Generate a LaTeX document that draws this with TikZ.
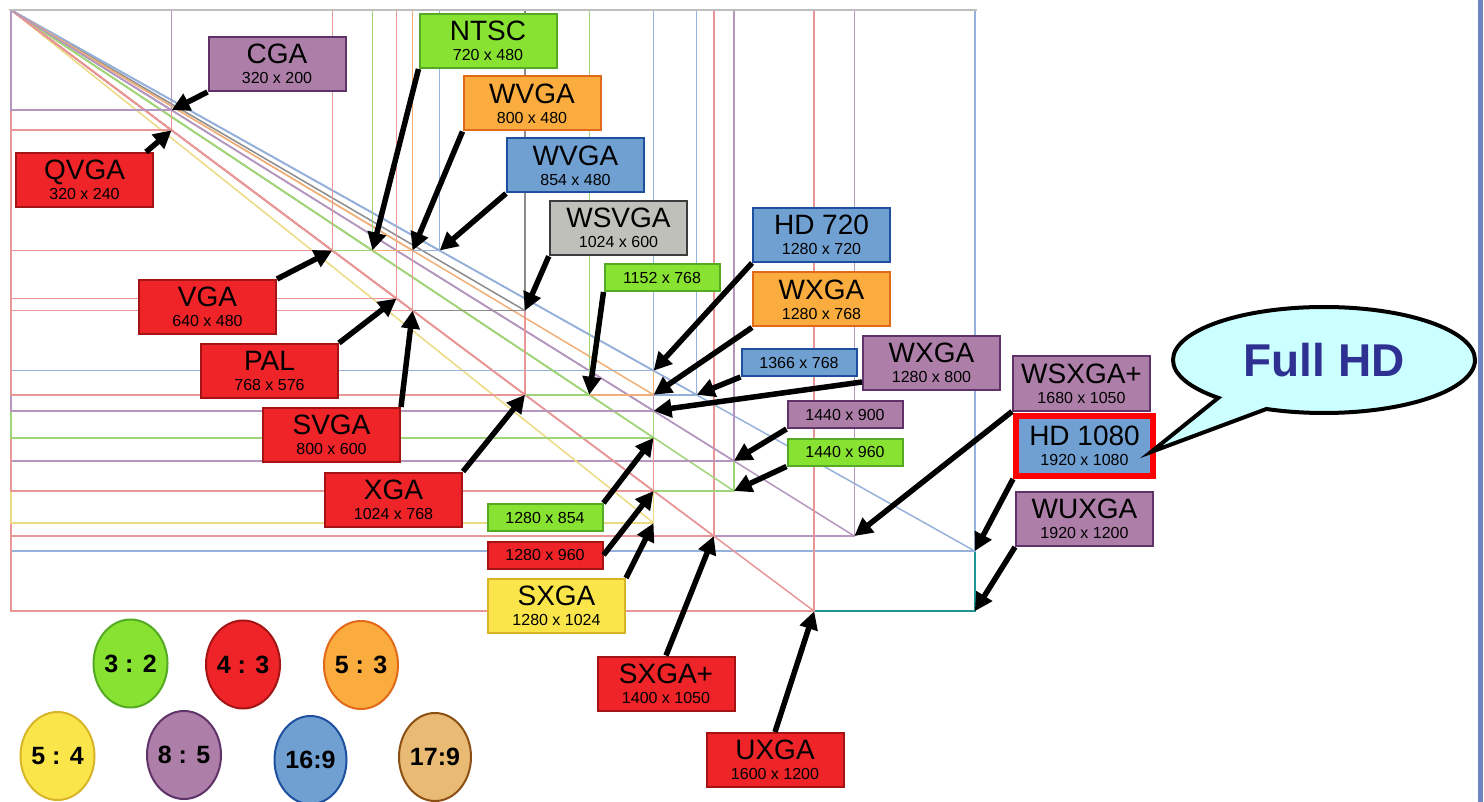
\documentclass[tikz,border=0pt]{standalone}
\usepackage{fontspec}
\setmainfont{Liberation Sans}
\usetikzlibrary{arrows.meta,shapes.geometric,shapes.callouts}
% box colours (fill / border)
\definecolor{fred}{RGB}{238,36,40}    \definecolor{dred}{RGB}{165,20,20}
\definecolor{fpurple}{RGB}{172,126,168}\definecolor{dpurple}{RGB}{95,50,105}
\definecolor{fgreen}{RGB}{136,226,50} \definecolor{dgreen}{RGB}{85,170,35}
\definecolor{forange}{RGB}{250,172,62}\definecolor{dorange}{RGB}{225,105,25}
\definecolor{fblue}{RGB}{112,160,210} \definecolor{dblue}{RGB}{30,80,160}
\definecolor{fgray}{RGB}{192,192,186} \definecolor{dgray}{RGB}{60,60,60}
\definecolor{fyellow}{RGB}{250,230,75}\definecolor{dyellow}{RGB}{215,180,40}
\definecolor{ftan}{RGB}{232,186,115}  \definecolor{dtan}{RGB}{140,80,20}
% thin chart lines
\definecolor{lred}{RGB}{232,150,150}
\definecolor{lblue}{RGB}{150,178,218}
\definecolor{lgreen}{RGB}{160,212,120}
\definecolor{lorange}{RGB}{240,175,120}
\definecolor{lpurple}{RGB}{180,150,190}
\definecolor{lyellow}{RGB}{236,218,130}
\definecolor{lgray}{RGB}{140,140,140}
\definecolor{lteal}{RGB}{30,150,150}
\definecolor{topgray}{RGB}{190,190,190}
\definecolor{calloutfill}{RGB}{204,255,255}
\definecolor{fullhd}{RGB}{46,49,146}
\definecolor{slideedge}{RGB}{110,135,195}
\tikzset{box/.style={draw, line width=2pt, minimum width=137pt, minimum height=54pt, inner sep=0pt, align=center, font=\fontsize{16}{20}\selectfont},
         smallbox/.style={draw, line width=2pt, minimum width=115pt, minimum height=27pt, inner sep=0pt, font=\fontsize{16}{20}\selectfont},
         ratio/.style={ellipse, draw, line width=2pt, minimum width=72pt, minimum height=88pt, inner sep=0pt, font=\bfseries\fontsize{25}{25}\selectfont},
         ptr/.style={line width=5.5pt, -{Triangle[length=18pt,width=18pt]}},
         resline/.style={line width=1.5pt},
         ar43/.style={fill=fred, draw=dred},
         ar85/.style={fill=fpurple, draw=dpurple},
         ar32/.style={fill=fgreen, draw=dgreen},
         ar53/.style={fill=forange, draw=dorange},
         ar169/.style={fill=fblue, draw=dblue},
         ar54/.style={fill=fyellow, draw=dyellow},
         arws/.style={fill=fgray, draw=dgray, line width=2.5pt}}
\newcommand{\reslabel}[2]{{\fontsize{28}{20}\selectfont #1}\\#2}

\begin{document}
\begin{tikzpicture}[x=1pt, y=-1pt]
    \useasboundingbox (0,0) rectangle (1484,802);

    % rectangles of the resolutions, half scale
    \begin{scope}[shift={(11,10)}, x=0.502pt, y=-0.501pt]
        \foreach \w/\h/\c in {1920/1200/lteal, 1920/1080/lblue, 1680/1050/lpurple, 1600/1200/lred,
                              1400/1050/lred, 1440/960/lgreen, 1440/900/lpurple, 1366/768/lblue,
                              1280/1024/lyellow, 1280/960/lred, 1280/854/lgreen, 1280/800/lpurple,
                              1280/768/lorange, 1280/720/lblue, 1152/768/lgreen, 1024/768/lred,
                              1024/600/lgray, 800/600/lred, 768/576/lred, 854/480/lblue,
                              800/480/lorange, 720/480/lgreen, 640/480/lred, 320/240/lred, 320/200/lpurple}{
            \draw[resline,\c] (0,0) rectangle (\w,\h);
            \ifnum\w=1920
                \ifnum\h=1200
                \else
                    \draw[resline,\c] (0,0) -- (\w,\h);
                \fi
            \else
                \draw[resline,\c] (0,0) -- (\w,\h);
            \fi
            \coordinate (p\w-\h) at (\w,\h);
        }
    \end{scope}
    \draw[line width=2.5pt, topgray] (9,10) -- (977,10);

    \node[box,ar85] (cga) at (277,64) {\reslabel{CGA}{320 x 200}};
    \node[box,ar43] (qvga) at (84.5,180) {\reslabel{QVGA}{320 x 240}};
    \node[box,ar32] (ntsc) at (488,41) {\reslabel{NTSC}{720 x 480}};
    \node[box,ar53] (wvgaa) at (532,103.5) {\reslabel{WVGA}{800 x 480}};
    \node[box,ar169] (wvgab) at (575.5,165.5) {\reslabel{WVGA}{854 x 480}};
    \node[box,arws] (wsvga) at (618.5,228) {\reslabel{WSVGA}{1024 x 600}};
    \node[box,ar43] (vga) at (207.5,307) {\reslabel{VGA}{640 x 480}};
    \node[box,ar43] (pal) at (269.5,371) {\reslabel{PAL}{768 x 576}};
    \node[box,ar43] (svga) at (331.5,435) {\reslabel{SVGA}{800 x 600}};
    \node[box,ar43] (xga) at (393.5,499.5) {\reslabel{XGA}{1024 x 768}};
    \node[smallbox,ar32] (s1152) at (662,277.5) {1152 x 768};
    \node[box,ar169] (hd720) at (821.5,235) {\reslabel{HD 720}{1280 x 720}};
    \node[box,ar53] (wxgaa) at (821.5,299.5) {\reslabel{WXGA}{1280 x 768}};
    \node[smallbox,ar169] (s1366) at (799,362.5) {1366 x 768};
    \node[box,ar85] (wxgab) at (931.5,363) {\reslabel{WXGA}{1280 x 800}};
    \node[smallbox,ar85] (s1440a) at (845,414.5) {1440 x 900};
    \node[smallbox,ar32] (s1440b) at (845,452) {1440 x 960};
    \node[box,ar85] (wsxga) at (1081.5,383.5) {\reslabel{WSXGA+}{1680 x 1050}};
    \node[box,ar169,draw=red,line width=6pt,minimum height=60pt] (hd1080) at (1084.5,446) {\reslabel{HD 1080}{1920 x 1080}};
    \node[box,ar85] (wuxga) at (1084.5,519) {\reslabel{WUXGA}{1920 x 1200}};
    \node[smallbox,ar32] (s1280a) at (545,517.5) {1280 x 854};
    \node[smallbox,ar43] (s1280b) at (545,555) {1280 x 960};
    \node[box,ar54] (sxga) at (556.5,606) {\reslabel{SXGA}{1280 x 1024}};
    \node[box,ar43] (sxgap) at (666,683.5) {\reslabel{SXGA+}{1400 x 1050}};
    \node[box,ar43] (uxga) at (775,760) {\reslabel{UXGA}{1600 x 1200}};

    \draw[ptr] (cga.south west) -- (p320-200);
    \draw[ptr] ([xshift=-8pt]qvga.north east) -- (p320-240);
    \draw[ptr] (vga.north east) -- (p640-480);
    \draw[ptr] (ntsc.south west) -- (p720-480);
    \draw[ptr] (wvgaa.south west) -- (p800-480);
    \draw[ptr] (wvgab.south west) -- (p854-480);
    \draw[ptr] (wsvga.south west) -- (p1024-600);
    \draw[ptr] (pal.north east) -- (p768-576);
    \draw[ptr] (svga.north east) -- (p800-600);
    \draw[ptr] (xga.north east) -- (p1024-768);
    \draw[ptr] (s1152.south west) -- (p1152-768);
    \draw[ptr] (hd720.south west) -- (p1280-720);
    \draw[ptr] (wxgaa.south west) -- (p1280-768);
    \draw[ptr] (s1366.south west) -- (p1366-768);
    \draw[ptr] ([yshift=-19pt]wxgab.west) -- (p1280-800);
    \draw[ptr] (s1440a.south west) -- (p1440-900);
    \draw[ptr] (s1440b.south west) -- (p1440-960);
    \draw[ptr] (wsxga.south west) -- (p1680-1050);
    \draw[ptr] (hd1080.south west) -- (p1920-1080);
    \draw[ptr] (wuxga.south west) -- (p1920-1200);
    \draw[ptr] (s1280a.north east) -- (p1280-854);
    \draw[ptr] (s1280b.east) -- (p1280-960);
    \draw[ptr] (sxga.north east) -- (p1280-1024);
    \draw[ptr] (sxgap.north) -- (p1400-1050);
    \draw[ptr] (uxga.north) -- (p1600-1200);

    % callout
    \node[ellipse callout, draw, line width=4pt, fill=calloutfill, minimum width=302pt, minimum height=106pt,
          callout absolute pointer={([xshift=-5pt,yshift=-6pt]hd1080.east)}, callout pointer arc=22,
          text=fullhd, font=\bfseries\fontsize{46}{46}\selectfont] (fullhd) at (1324,360) {Full HD};

    % aspect ratios
    \foreach \t/\f/\d/\pos [count=\n] in {3 : 2/fgreen/dgreen/{(130.5,663.5)}, 4 : 3/fred/dred/{(243,664.5)},
                                         5 : 3/forange/dorange/{(361,665)}, 5 : 4/fyellow/dyellow/{(57.5,756)},
                                         8 : 5/fpurple/dpurple/{(184,755)}, 16:9/fblue/dblue/{(310.5,760)},
                                         17:9/ftan/dtan/{(435,757)}}{
        \node[ratio, fill=\f, draw=\d] (r\n) at \pos {\t};
    }

    \fill[slideedge] (1478,0) rectangle (1483,802);
\end{tikzpicture}
\end{document}
